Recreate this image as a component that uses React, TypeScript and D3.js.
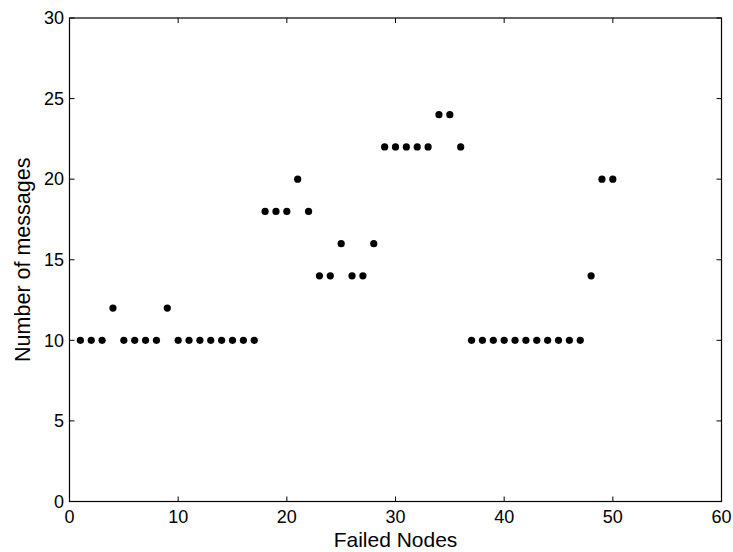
import React from 'react';
import * as d3 from 'd3';

// failed node index and number of messages
const nodes = d3.range(1, 51);
const messages = [
  10, 10, 10, 12, 10, 10, 10, 10, 12, 10,
  10, 10, 10, 10, 10, 10, 10, 18, 18, 18,
  20, 18, 14, 14, 16, 14, 14, 16, 22, 22,
  22, 22, 22, 24, 24, 22, 10, 10, 10, 10,
  10, 10, 10, 10, 10, 10, 10, 14, 20, 20,
];
const xTicks = [0, 10, 20, 30, 40, 50, 60];
const yTicks = [0, 5, 10, 15, 20, 25, 30];

const width = 733;
const height = 552;
const margin = { top: 18, right: 11.5, bottom: 50.5, left: 69.5 };
const font = 'Liberation Sans, Arial, Helvetica, sans-serif';

export default function App() {
  const x = d3.scaleLinear().domain([0, 60]).range([margin.left, width - margin.right]);
  const y = d3.scaleLinear().domain([0, 30]).range([height - margin.bottom, margin.top]);
  const [x0, x1] = x.range();
  const [y0, y1] = y.range();
  const tick = 5;

  return (
    <svg width={width} height={height} style={{ position: 'absolute', left: 0, top: 0 }}
      fontFamily={font} fontSize={18}>
      <rect x={0} y={0} width={width} height={height} fill="#fff" />
      {xTicks.map((t) => (
        <g key={'x' + t}>
          <line x1={x(t)} x2={x(t)} y1={y0} y2={y0 - tick} stroke="#000" />
          <line x1={x(t)} x2={x(t)} y1={y1} y2={y1 + tick} stroke="#000" />
          <text x={x(t)} y={y0 + 21.5} textAnchor="middle">{t}</text>
        </g>
      ))}
      {yTicks.map((t) => (
        <g key={'y' + t}>
          <line x1={x0} x2={x0 + tick} y1={y(t)} y2={y(t)} stroke="#000" />
          <line x1={x1} x2={x1 - tick} y1={y(t)} y2={y(t)} stroke="#000" />
          <text x={x0 - 5.5} y={y(t)} dy="0.35em" textAnchor="end">{t}</text>
        </g>
      ))}
      <rect x={x0} y={y1} width={x1 - x0} height={y0 - y1} fill="none" stroke="#000" strokeWidth={1.2} />
      {nodes.map((n, i) => (
        <circle key={n} cx={x(n)} cy={y(messages[i])} r={3.6} fill="#000" />
      ))}
      <text x={(x0 + x1) / 2} y={546.5} textAnchor="middle" fontSize={21}>Failed Nodes</text>
      <text transform={`translate(30,${(y0 + y1) / 2}) rotate(-90)`} textAnchor="middle" fontSize={21.5}>
        Number of messages
      </text>
    </svg>
  );
}
